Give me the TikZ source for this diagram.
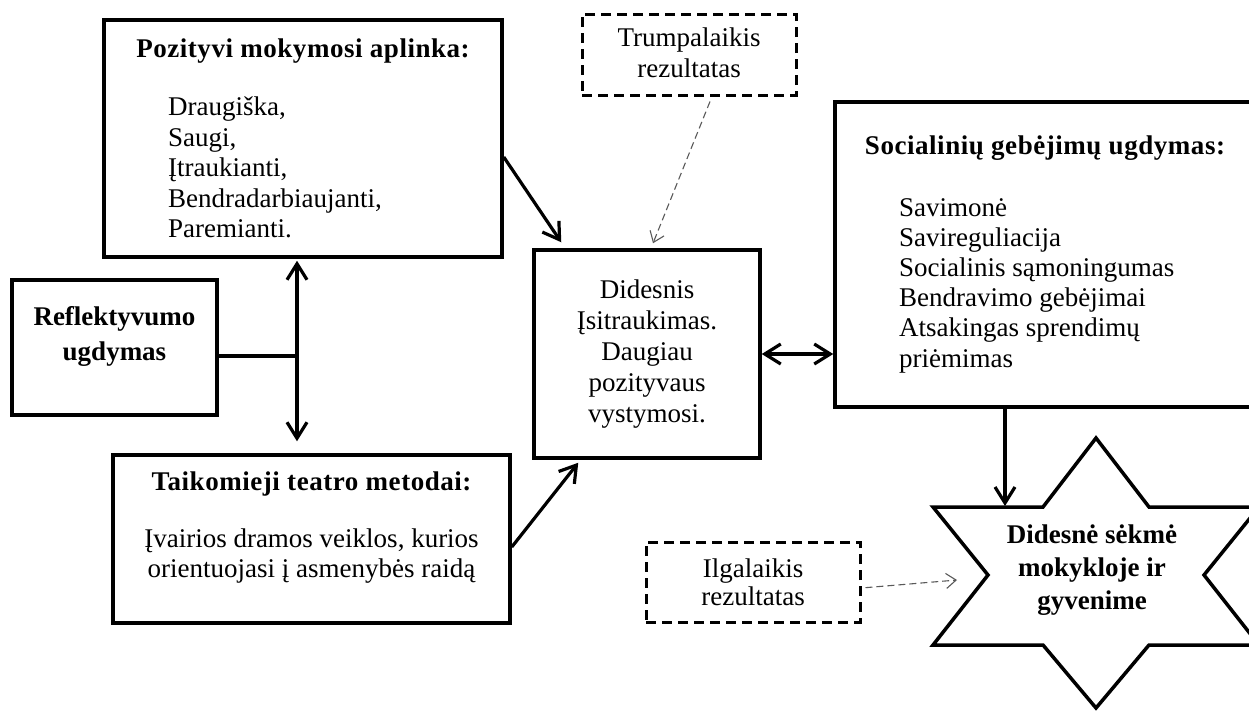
\documentclass[tikz,border=0pt]{standalone}
\usepackage{fontspec}
\setmainfont{Liberation Serif}
\newfontfamily\headfont[LetterSpace=2]{Liberation Serif}
\usetikzlibrary{arrows.meta}
\begin{document}
\begin{tikzpicture}[x=1pt,y=-1pt,
  frame/.style={draw, line width=3.5pt, inner sep=0pt},
  dframe/.style={draw, line width=3pt, dash pattern=on 10pt off 6pt, inner sep=0pt},
  txt/.style={inner sep=0pt, font=\fontsize{27}{#1}\selectfont},
  txt/.default=30.5,
  ttl/.style={inner sep=0pt, font=\fontsize{27}{#1}\selectfont\bfseries},
  ttl/.default=30.5,
  head/.style={inner sep=0pt, font=\fontsize{27}{30.5}\selectfont\headfont\bfseries},
  tip/.style={Straight Barb[length=16pt,width=20pt]},
  arr/.style={line width=3.2pt, -{Straight Barb[length=16pt,width=20pt]}},
  arrboth/.style={line width=3.2pt, {Straight Barb[length=16pt,width=20pt]}-{Straight Barb[length=16pt,width=20pt]}},
  plain/.style={line width=3.2pt},
  darr/.style={draw=black!65, line width=1.1pt, dash pattern=on 7pt off 4pt,
    -{Straight Barb[length=10pt,width=15pt]}},
]
\useasboundingbox (0,0) rectangle (1249,710);
\clip (0,0) rectangle (1249,710);

% boxes
\node[frame, minimum width=398pt, minimum height=237pt] (pos) at (303,138.5) {};
\node[frame, minimum width=205pt, minimum height=135pt] (refl) at (114.5,347.5) {};
\node[frame, minimum width=397pt, minimum height=168pt] (teat) at (311.5,539) {};
\node[frame, minimum width=226pt, minimum height=208pt] (mid) at (647,354) {};
\node[frame, minimum width=420pt, minimum height=305pt] (soc) at (1045,254.5) {};
\node[dframe, minimum width=214pt, minimum height=81pt] (trump) at (689,54.5) {};
\node[dframe, minimum width=214pt, minimum height=80pt] (ilg) at (753,582) {};

% six-pointed goal shape
\draw[line width=3.5pt, line join=miter]
  (1096,438) -- (1149,507) -- (1259,507) -- (1204,575) -- (1259,645)
  -- (1149,645) -- (1096,708) -- (1043,645) -- (933,645) -- (988,575)
  -- (933,507) -- (1043,507) -- cycle;

% texts
\node[head] (posT) at (303,51) {Pozityvi mokymosi aplinka:};
\node[txt, align=left, anchor=north west] (posL) at (168,97)
  {Draugiška,\\Saugi,\\Įtraukianti,\\Bendradarbiaujanti,\\Paremianti.};
\node[ttl=35, align=center] (reflT) at (114.5,336) {Reflektyvumo\\ugdymas};
\node[head] (teatT) at (311.5,484) {Taikomieji teatro metodai:};
\node[txt, align=center] (teatL) at (311.5,556)
  {Įvairios dramos veiklos, kurios\\orientuojasi į asmenybės raidą};
\node[txt=31, align=center] (midT) at (647,354)
  {Didesnis\\Įsitraukimas.\\Daugiau\\pozityvaus\\vystymosi.};
\node[head] (socT) at (1045,148) {Socialinių gebėjimų ugdymas:};
\node[txt=30.2, align=left, anchor=north west] (socL) at (899,198)
  {Savimonė\\Savireguliacija\\Socialinis sąmoningumas\\Bendravimo gebėjimai\\Atsakingas sprendimų\\priėmimas};
\node[txt=31, align=center] (trumpT) at (689,53) {Trumpalaikis\\rezultatas};
\node[txt=28, align=center] (ilgT) at (753,582) {Ilgalaikis\\rezultatas};
\node[ttl=33, align=center] (goal) at (1092,570) {Didesnė sėkmė\\mokykloje ir\\gyvenime};

% junction points
\coordinate (junc) at (297,356);
\coordinate (startop) at (1005,506);
\coordinate (starleft) at (957,580);

% connectors
\draw[plain] (refl.east |- junc) -- (junc);
\draw[arrboth, shorten <=2pt, shorten >=12pt] (pos.south -| junc) -- (teat.north -| junc);
\draw[arr] ([yshift=-18.5pt]pos.east) -- ([xshift=29pt,yshift=6pt]mid.north west);
\draw[arr] ([yshift=-8pt]teat.east) -- ([xshift=46pt,yshift=-3pt]mid.south west);
\draw[arrboth] (mid.east) -- (mid.east -| soc.west);
\draw[arr] (soc.south -| startop) -- (startop);
\draw[darr] ([xshift=21pt,yshift=-5pt]trump.south) -- ([xshift=6pt,yshift=5pt]mid.north);
\draw[darr, shorten <=4pt] ([yshift=-6pt]ilg.east) -- (starleft);
\end{tikzpicture}
\end{document}
